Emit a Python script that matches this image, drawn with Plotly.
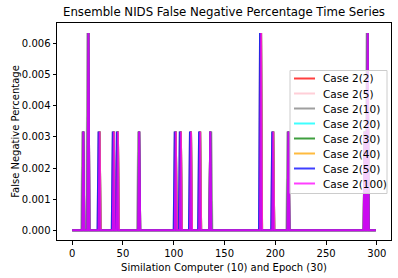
import plotly.graph_objects as go

# ---- data ----
n_points = 300
epochs = list(range(n_points))
low = 0.0031746   # one false negative (1/315)
high = 0.0063492  # two false negatives (2/315)

case_names = ["Case 2(2)", "Case 2(5)", "Case 2(10)", "Case 2(20)",
              "Case 2(30)", "Case 2(40)", "Case 2(50)", "Case 2(100)"]
case_colors = ["red", "pink", "gray", "cyan", "green", "orange", "blue", "magenta"]

base_idx = [11, 16, 27, 41, 45, 66, 102, 107, 117, 126, 136, 186, 198, 213, 288, 291]
base_val = [low, high, low, low, low, low, low, low, low, low, low, high, low, low, low, high]

gray_idx = [10, 15, 26, 40, 44, 65, 101, 106, 116, 125, 137, 185, 197, 212, 290]
gray_val = [low, high, low, low, low, low, low, low, low, low, low, high, low, low, high]

blue_idx = [11, 16, 26, 40, 44, 66, 101, 106, 116, 125, 136, 185, 197, 213, 288, 291]
blue_val = [low, high, low, low, low, low, low, low, low, low, low, high, low, low, low, high]

spikes = {
    "Case 2(2)": (base_idx, base_val),
    "Case 2(5)": (base_idx, base_val),
    "Case 2(10)": (gray_idx, gray_val),
    "Case 2(20)": (base_idx, base_val),
    "Case 2(30)": (base_idx, base_val),
    "Case 2(40)": (base_idx, base_val),
    "Case 2(50)": (blue_idx, blue_val),
    "Case 2(100)": (base_idx, base_val),
}


def build_series(idx, val):
    y = [0.0] * n_points
    for i, v in zip(idx, val):
        y[i] = v
    return y


fig = go.Figure()
for name, color in zip(case_names, case_colors):
    idx, val = spikes[name]
    fig.add_trace(go.Scatter(
        x=epochs, y=build_series(idx, val), mode="lines", name=name,
        line=dict(color=color, width=2), opacity=0.75, showlegend=False,
    ))

# ---- plot area geometry (pixels) ----
W, H = 398, 278
L, R, T, B = 57, 7, 23, 38
pw, ph = W - L - R, H - T - B


def px_to_paper_x(px):
    return (px - L) / pw


def py_to_paper_y(py):
    return (H - B - py) / ph


# ---- matplotlib-style legend drawn as shapes + text ----
shapes = []
annotations = []
box_l, box_r, box_t, box_b = 290, 387, 70.5, 193.5
shapes.append(dict(type="rect", xref="paper", yref="paper",
                   x0=px_to_paper_x(box_l), x1=px_to_paper_x(box_r),
                   y0=py_to_paper_y(box_b), y1=py_to_paper_y(box_t),
                   fillcolor="rgba(255,255,255,0.8)",
                   line=dict(color="#cccccc", width=1), layer="above"))
row0, row_step = 78.5, 15.0
for k, (name, color) in enumerate(zip(case_names, case_colors)):
    yc = row0 + row_step * k
    shapes.append(dict(type="line", xref="paper", yref="paper",
                       x0=px_to_paper_x(294), x1=px_to_paper_x(315),
                       y0=py_to_paper_y(yc), y1=py_to_paper_y(yc),
                       line=dict(color=color, width=2), opacity=0.75,
                       layer="above"))
    annotations.append(dict(text=name, xref="paper", yref="paper",
                            x=px_to_paper_x(321), y=py_to_paper_y(yc),
                            xanchor="left", yanchor="middle", showarrow=False,
                            font=dict(size=10.5, color="black")))

font_family = "DejaVu Sans"
fig.update_layout(
    width=W, height=H,
    margin=dict(l=L, r=R, t=T, b=B),
    paper_bgcolor="white", plot_bgcolor="white",
    font=dict(family=font_family, size=10, color="black"),
    title=dict(text="Ensemble NIDS False Negative Percentage Time Series",
               x=0.5, xref="paper", xanchor="center",
               y=1 - 12 / H, yanchor="middle", yref="container",
               font=dict(size=11.75)),
    showlegend=False,
    shapes=shapes,
    annotations=annotations,
)
fig.update_xaxes(
    range=[-14.95, 313.95], tickvals=[0, 50, 100, 150, 200, 250, 300],
    showline=True, linecolor="black", linewidth=1, mirror=True,
    ticks="outside", ticklen=3.5, tickcolor="black", showgrid=False,
    zeroline=False, automargin=False,
    title=dict(text="Similation Computer (10) and Epoch (30)", standoff=6,
               font=dict(size=10)),
)
fig.update_yaxes(
    range=[-0.0003175, 0.0066675],
    tickvals=[0, 0.001, 0.002, 0.003, 0.004, 0.005, 0.006],
    tickformat=".3f",
    showline=True, linecolor="black", linewidth=1, mirror=True,
    ticks="outside", ticklen=3.5, tickcolor="black", showgrid=False,
    zeroline=False, automargin=False,
    title=dict(text="False Negative Percentage", standoff=0,
               font=dict(size=10)),
)

fig.write_html("out.html",
               config={"displayModeBar": False},
               post_script="document.body.style.margin='0px';")
